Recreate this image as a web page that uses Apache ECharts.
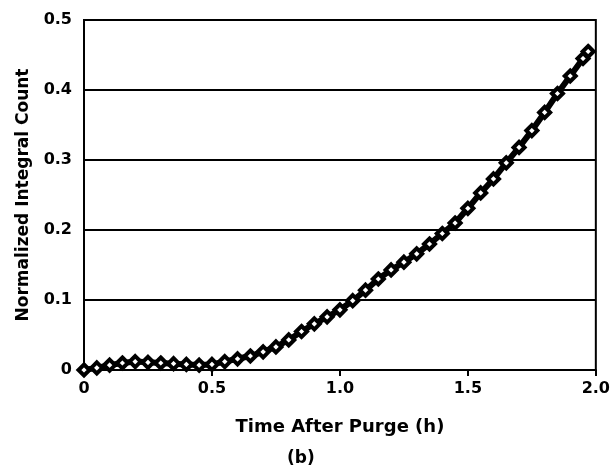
<!DOCTYPE html>
<html>
<head>
<meta charset="utf-8">
<script src="https://cdn.jsdelivr.net/npm/echarts@6/dist/echarts.min.js"></script>
<style>
  html, body { margin: 0; padding: 0; background: #fff; }
  #chart { width: 613px; height: 474px; }
</style>
</head>
<body>
<div id="chart"></div>
<script>
// time after purge (h)
var timeH = [0.00, 0.05, 0.10, 0.15, 0.20, 0.25, 0.30, 0.35, 0.40, 0.45,
             0.50, 0.55, 0.60, 0.65, 0.70, 0.75, 0.80, 0.85, 0.90, 0.95,
             1.00, 1.05, 1.10, 1.15, 1.20, 1.25, 1.30, 1.35, 1.40, 1.45,
             1.50, 1.55, 1.60, 1.65, 1.70, 1.75, 1.80, 1.85, 1.90, 1.95, 1.97];
// normalized integral count
var countVals = [0.000, 0.003, 0.007, 0.010, 0.012, 0.011, 0.010, 0.009, 0.008, 0.007,
                 0.008, 0.012, 0.016, 0.020, 0.026, 0.033, 0.043, 0.055, 0.066, 0.076,
                 0.086, 0.099, 0.114, 0.130, 0.143, 0.154, 0.166, 0.180, 0.195, 0.210,
                 0.231, 0.253, 0.273, 0.296, 0.318, 0.342, 0.368, 0.395, 0.420, 0.445, 0.455];

var seriesData = [];
for (var i = 0; i < timeH.length; i++) {
	seriesData.push([timeH[i], countVals[i]]);
}

var myChart = echarts.init(document.getElementById('chart'));
var tickFont = {
	color: '#000',
	fontFamily: 'DejaVu Sans',
	fontWeight: 'bold',
	fontSize: 16
};

var option = {
	backgroundColor: '#fff',
	animation: false,
	grid: { left: 84, right: 13, top: 20, bottom: 104, show: true, borderColor: '#000', borderWidth: 2 },
	xAxis: {
		type: 'value',
		min: 0, max: 2, interval: 0.5,
		name: 'Time After Purge (h)',
		nameLocation: 'middle',
		nameGap: 48,
		nameTextStyle: { color: '#000', fontFamily: 'DejaVu Sans', fontWeight: 'bold', fontSize: 18 },
		axisLine: { lineStyle: { color: '#000', width: 2 } },
		axisTick: { show: true, length: 6, lineStyle: { color: '#000', width: 2 } },
		splitLine: { show: false },
		axisLabel: Object.assign({
			margin: 11,
			formatter: function (v) { return v === 0 ? '0' : v.toFixed(1); }
		}, tickFont)
	},
	yAxis: {
		type: 'value',
		min: 0, max: 0.5, interval: 0.1,
		name: 'Normalized Integral Count',
		nameLocation: 'middle',
		nameGap: 52,
		nameTextStyle: { color: '#000', fontFamily: 'DejaVu Sans', fontWeight: 'bold', fontSize: 17 },
		axisLine: { lineStyle: { color: '#000', width: 2 } },
		axisTick: { show: false },
		splitLine: { show: true, lineStyle: { color: '#000', width: 2 } },
		axisLabel: Object.assign({
			margin: 12,
			formatter: function (v) { return v === 0 ? '0' : v.toFixed(1); }
		}, tickFont)
	},
	graphic: [{
		type: 'text',
		left: 287, top: 450,
		style: { text: '(b)', fill: '#000', font: 'bold 17px "DejaVu Sans"' }
	}],
	series: [{
		name: 'count',
		type: 'line',
		data: seriesData,
		symbol: 'diamond',
		symbolSize: 11,
		showAllSymbol: true,
		itemStyle: { color: '#fff', borderColor: '#000', borderWidth: 4 },
		lineStyle: { color: '#000', width: 6 }
	}]
};

myChart.setOption(option);
</script>
</body>
</html>
